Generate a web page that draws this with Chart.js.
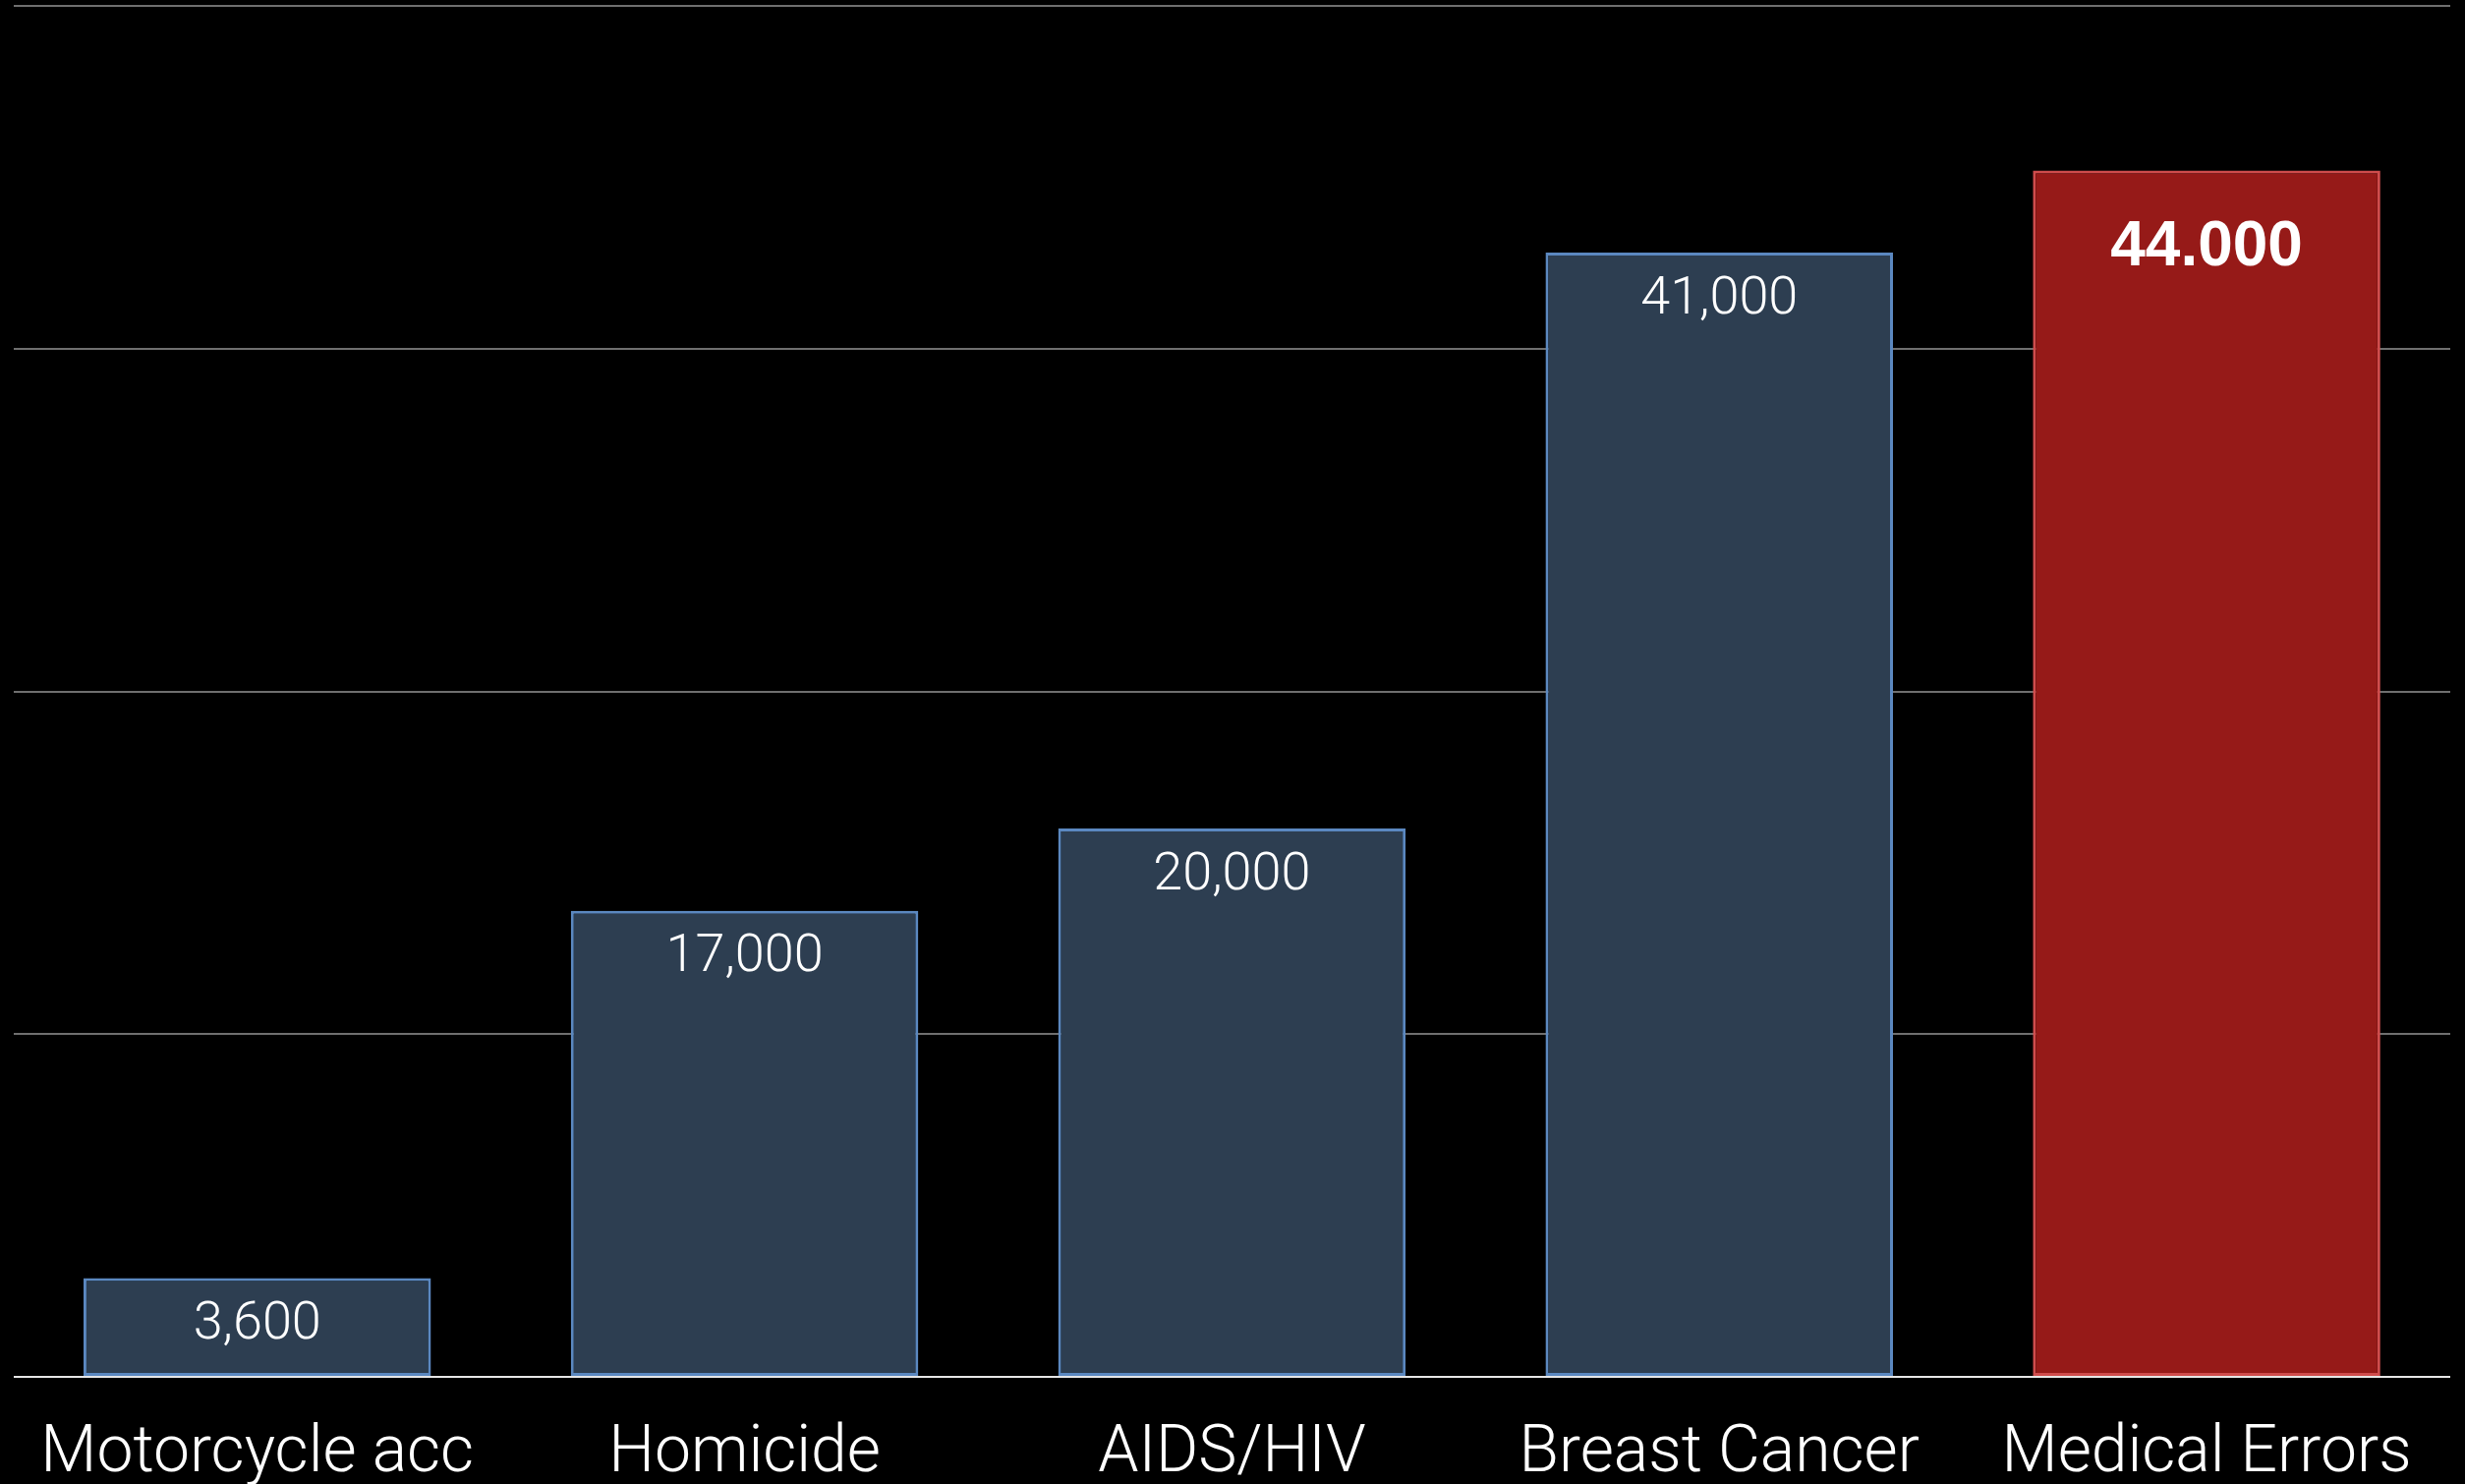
<!DOCTYPE html>
<html>
<head>
<meta charset="utf-8">
<script src="https://cdn.jsdelivr.net/npm/chart.js@4/dist/chart.umd.min.js"></script>
<style>
    html, body { margin: 0; padding: 0; background: #000; }
    canvas { display: block; }
</style>
</head>
<body>
<canvas id="chart" width="2508" height="1510"></canvas>
<script>
// Chart Data
const categories = ['Motorcycle acc', 'Homicide', 'AIDS/HIV', 'Breast Cancer', 'Medical Errors'];
const deaths = [3600, 17000, 20000, 41000, 44000];
const valueLabels = ['3,600', '17,000', '20,000', '41,000', '44.000'];
const highlight = 'Medical Errors';

const isHot = (i) => categories[i] === highlight;

// value text inside each bar
const barLabels = {
    id: 'barLabels',
    afterDatasetsDraw(chart) {
        const ctx = chart.ctx;
        const meta = chart.getDatasetMeta(0);
        ctx.save();
        ctx.fillStyle = '#ffffff';
        ctx.textAlign = 'center';
        ctx.textBaseline = 'middle';
        meta.data.forEach((bar, i) => {
            if (isHot(i)) {
                ctx.font = 'bold 64px "Liberation Sans", Arial, sans-serif';
                ctx.fillText(valueLabels[i], bar.x, bar.y + 79);
            } else {
                ctx.font = '300 54px Roboto, "Helvetica Neue", sans-serif';
                ctx.fillText(valueLabels[i], bar.x, bar.y + 48);
            }
        });
        ctx.restore();
    }
};

const config = {
    type: 'bar',
    data: {
        labels: categories,
        datasets: [{
            data: deaths,
            backgroundColor: categories.map((c, i) => isHot(i) ? '#961a18' : '#2d3e51'),
            borderColor: categories.map((c, i) => isHot(i) ? '#cf4c4c' : '#5b88c0'),
            borderWidth: 3,
            borderSkipped: false,
            categoryPercentage: 1,
            barPercentage: 0.713
        }]
    },
    options: {
        responsive: false,
        devicePixelRatio: 1,
        animation: false,
        layout: { padding: { left: 13, right: 15, top: 6, bottom: 0 } },
        plugins: {
            legend: { display: false },
            tooltip: { enabled: false }
        },
        scales: {
            x: {
                grid: { display: false, drawTicks: false },
                border: { display: false },
                ticks: {
                    color: '#ffffff',
                    padding: 40,
                    font: { family: 'Roboto, "Helvetica Neue", sans-serif', size: 66, weight: '300' }
                },
                afterFit(scale) { scale.height = 109; }
            },
            y: {
                min: 0,
                max: 50000,
                ticks: { display: false, stepSize: 12500 },
                border: { display: false },
                grid: {
                    drawTicks: false,
                    lineWidth: 2,
                    color: (ctx) => ctx.tick && ctx.tick.value === 0 ? '#e6e6e6' : '#6f6f6f'
                },
                afterFit(scale) { scale.width = 0; }
            }
        }
    },
    plugins: [barLabels]
};

// Create Chart
const chart = new Chart(document.getElementById('chart'), config);
</script>
</body>
</html>
